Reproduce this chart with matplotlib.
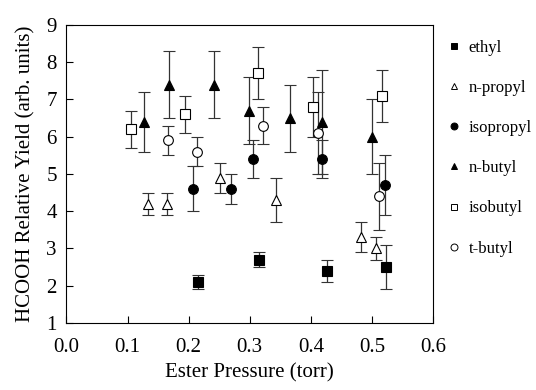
import numpy as np
import matplotlib.pyplot as plt
from matplotlib.lines import Line2D

plt.rcParams['font.family'] = ['Liberation Serif', 'DejaVu Serif']

# ethyl
eth_x = [0.216, 0.315, 0.427, 0.523]
eth_y = [2.1, 2.7, 2.4, 2.5]
eth_e = [0.2, 0.2, 0.3, 0.6]

# n-propyl
npr_x = [0.133, 0.164, 0.251, 0.343, 0.482, 0.507]
npr_y = [4.2, 4.2, 4.9, 4.3, 3.3, 3.0]
npr_e = [0.3, 0.3, 0.4, 0.6, 0.4, 0.3]

# isopropyl
ipr_x = [0.207, 0.269, 0.306, 0.419, 0.521]
ipr_y = [4.6, 4.6, 5.4, 5.4, 4.7]
ipr_e = [0.6, 0.4, 0.5, 0.5, 0.8]

# n-butyl
nbu_x = [0.127, 0.168, 0.241, 0.299, 0.366, 0.418, 0.500]
nbu_y = [6.4, 7.4, 7.4, 6.7, 6.5, 6.4, 6.0]
nbu_e = [0.8, 0.9, 0.9, 0.9, 0.9, 1.4, 1.0]

# isobutyl
ibu_x = [0.105, 0.194, 0.313, 0.403, 0.516]
ibu_y = [6.2, 6.6, 7.7, 6.8, 7.1]
ibu_e = [0.5, 0.5, 0.7, 0.8, 0.7]

# t-butyl
tbu_x = [0.166, 0.213, 0.321, 0.412, 0.512]
tbu_y = [5.9, 5.6, 6.3, 6.1, 4.4]
tbu_e = [0.4, 0.4, 0.5, 1.1, 0.9]

series = [
    ('ethyl', eth_x, eth_y, eth_e, 's', 'black'),
    ('n-propyl', npr_x, npr_y, npr_e, '^', 'white'),
    ('isopropyl', ipr_x, ipr_y, ipr_e, 'o', 'black'),
    ('n-butyl', nbu_x, nbu_y, nbu_e, '^', 'black'),
    ('isobutyl', ibu_x, ibu_y, ibu_e, 's', 'white'),
    ('t-butyl', tbu_x, tbu_y, tbu_e, 'o', 'white'),
]

fig = plt.figure(figsize=(5.36, 3.9), dpi=100)
ax = fig.add_axes([0.124, 0.172, 0.684, 0.764])

handles = []
for name, x, y, e, m, fc in series:
    ax.errorbar(x, y, yerr=e, fmt='none', ecolor='#333333', elinewidth=0.9,
                capsize=4, capthick=0.8)
    ax.plot(x, y, linestyle='none', marker=m, markersize=7, markerfacecolor=fc,
            markeredgecolor='black', markeredgewidth=0.8, zorder=3)
    handles.append(Line2D([], [], linestyle='none', marker=m, markersize=5,
                          markerfacecolor=fc, markeredgecolor='black',
                          markeredgewidth=0.7, label=name))

ax.set_xlim(0.0, 0.6)
ax.set_ylim(1, 9)
ax.set_xticks(np.arange(0.0, 0.61, 0.1))
ax.set_xticklabels(['%.1f' % v for v in np.arange(0.0, 0.61, 0.1)])
ax.set_yticks(range(1, 10))
ax.tick_params(direction='in', length=5, width=0.8, labelsize=15, top=False, right=False)
ax.tick_params(axis='x', pad=10.5)
ax.tick_params(axis='y', pad=7)
for s in ax.spines.values():
    s.set_linewidth(0.8)

ax.set_xlabel('Ester Pressure (torr)', fontsize=15, labelpad=5)
ax.set_ylabel('HCOOH Relative Yield (arb. units)', fontsize=15, labelpad=8)

fig.legend(handles=handles, loc='upper left', bbox_to_anchor=(0.825, 0.915),
           frameon=False, fontsize=12, labelspacing=1.45, handlelength=0.6,
           handletextpad=0.6, borderaxespad=0)

fig.savefig('out.png', dpi=100)
